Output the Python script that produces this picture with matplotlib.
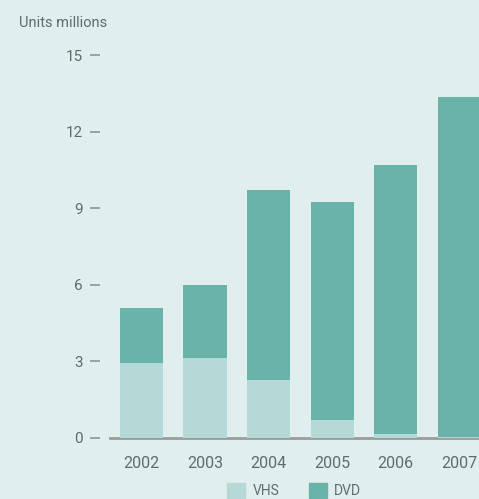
import matplotlib.pyplot as plt
from matplotlib.patches import Patch

years = ['2002', '2003', '2004', '2005', '2006', '2007']
vhs = [2.92, 3.12, 2.25, 0.69, 0.14, 0.02]
dvd_total = [5.08, 5.98, 9.71, 9.24, 10.69, 13.35]
dvd = [t - v for t, v in zip(dvd_total, vhs)]

bg = '#e0eeed'
c_vhs = '#b4d9d6'
c_dvd = '#6ab3a8'
txt = '#5f6b74'

plt.rcParams['font.family'] = ['Roboto', 'DejaVu Sans']

fig = plt.figure(figsize=(4.79, 4.99), dpi=100, facecolor=bg)
ax = fig.add_axes([110 / 479, 61.5 / 499, 369 / 479, 0.797])
ax.set_facecolor(bg)

x = range(len(years))
ax.bar(x, vhs, width=0.68, color=c_vhs, zorder=3)
ax.bar(x, dvd, bottom=vhs, width=0.68, color=c_dvd, zorder=3)

ax.set_xlim(-0.495, 5.31)
ax.set_ylim(0, 15.6)
ax.set_yticks([0, 3, 6, 9, 12, 15])
ax.set_xticks(list(x))
ax.set_xticklabels(years)

for s in ['top', 'right']:
    ax.spines[s].set_visible(False)
ax.spines['left'].set_position(('outward', 7))
ax.spines['left'].set_visible(False)
ax.spines['bottom'].set_color('#999b9d')
ax.spines['bottom'].set_linewidth(2)
ax.spines['bottom'].set_zorder(2)

ax.tick_params(axis='y', length=7.5, width=1.2, color='#8f9397',
               labelsize=11, labelcolor=txt, pad=5)
ax.tick_params(axis='x', length=0, labelsize=11.5, labelcolor=txt, pad=13)

fig.text(19 / 479, 1 - 23 / 499, 'Units millions', fontsize=10.5,
         color=txt, va='center', ha='left')

handles = [Patch(color=c_vhs, label='VHS'), Patch(color=c_dvd, label='DVD')]
fig.legend(handles=handles, ncol=2, frameon=False, loc='upper left',
           bbox_to_anchor=(227 / 479, 1 - 483 / 499), fontsize=10,
           labelcolor=txt, handlelength=1.3, handleheight=1.3,
           columnspacing=2.1, handletextpad=0.55, borderaxespad=0,
           borderpad=0)

fig.savefig('out.png', dpi=100, facecolor=bg)
